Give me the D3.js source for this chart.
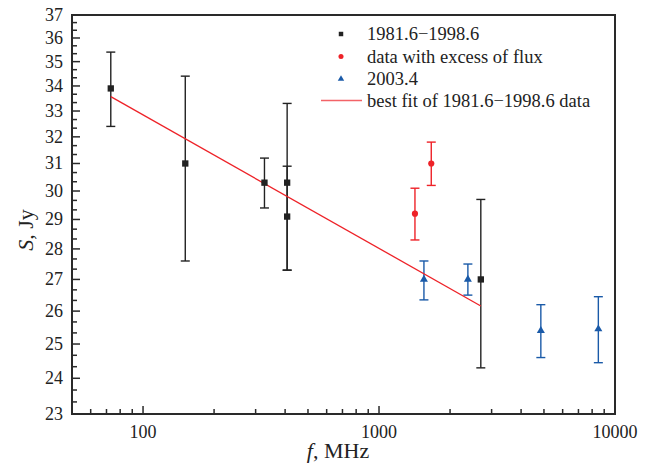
<!DOCTYPE html>
<html>
<head>
<meta charset="utf-8">
<script src="https://cdn.jsdelivr.net/npm/d3@7"></script>
<style>
html,body{margin:0;padding:0;background:#fff;}
svg{display:block;}
text{font-family:'Liberation Serif','Times New Roman','DejaVu Serif',serif;}
</style>
</head>
<body>
<svg id="chart" width="645" height="474"></svg>
<script>
// ---- data ----
const blackFreq = [73, 151, 327, 408, 408, 2700];
const blackFlux = [33.9, 31.0, 30.3, 30.3, 29.1, 27.0];
const blackLow  = [32.4, 27.6, 29.4, 27.3, 27.3, 24.3];
const blackHigh = [35.4, 34.4, 31.2, 33.3, 30.9, 29.7];

const redFreq = [1420, 1665];
const redFlux = [29.2, 31.0];
const redLow  = [28.3, 30.2];
const redHigh = [30.1, 31.8];

const blueFreq = [1550, 2380, 4850, 8500];
const blueFlux = [27.0, 27.0, 25.4, 25.45];
const blueLow  = [26.35, 26.5, 24.6, 24.45];
const blueHigh = [27.6, 27.5, 26.2, 26.45];

const fitFreq = [73, 2700];
const fitFlux = [33.57, 26.16];

const yTickValues = [23,24,25,26,27,28,29,30,31,32,33,34,35,36,37];
const xTickValues = [100, 1000, 10000];
const legendLabels = ["1981.6\u22121998.6", "data with excess of flux", "2003.4", "best fit of 1981.6\u22121998.6 data"];

// ---- layout ----
const L = 72, R = 615, T = 15, B = 414;
const FONT = "'Liberation Serif','Times New Roman','DejaVu Serif',serif";
const colBlack = "#222222", colRed = "#ee2228", colBlue = "#1a5aa8", axisCol = "#2a2a2a";

const svg = d3.select("#chart").attr("font-family", FONT);
const x = d3.scaleLog().domain([50, 10000]).range([L, R]);
const y = d3.scaleLog().domain([23, 37]).range([B, T]);

// frame
svg.append("rect").attr("x", L).attr("y", T).attr("width", R - L).attr("height", B - T)
  .attr("fill", "none").attr("stroke", axisCol).attr("stroke-width", 2);

// y ticks
const yMinor = [];
for (let v = 23; v < 37; v++) { yMinor.push(v + 1/3, v + 2/3); }
const gy = svg.append("g");
gy.selectAll("line.maj").data(yTickValues).join("line")
  .attr("x1", L).attr("x2", L + 8).attr("y1", d => y(d)).attr("y2", d => y(d))
  .attr("stroke", axisCol).attr("stroke-width", 1.5);
gy.selectAll("line.min").data(yMinor).join("line").attr("class","min")
  .attr("x1", L).attr("x2", L + 5).attr("y1", d => y(d)).attr("y2", d => y(d))
  .attr("stroke", axisCol).attr("stroke-width", 1.5);
gy.selectAll("text").data(yTickValues).join("text")
  .attr("font-family", FONT)
  .attr("x", L - 9).attr("y", d => y(d) + 6).attr("text-anchor", "end")
  .attr("font-size", 18).attr("fill", "#222").text(d => d);

// x ticks
const xMinor = [];
[10, 100, 1000].forEach(dec => { for (let k = 2; k <= 9; k++) { const v = dec * k; if (v > 50 && v < 10000) xMinor.push(v); } });
const gx = svg.append("g");
gx.selectAll("line.maj").data(xTickValues).join("line")
  .attr("x1", d => x(d)).attr("x2", d => x(d)).attr("y1", B).attr("y2", B - 8)
  .attr("stroke", axisCol).attr("stroke-width", 1.5);
gx.selectAll("line.min").data(xMinor).join("line").attr("class","min")
  .attr("x1", d => x(d)).attr("x2", d => x(d)).attr("y1", B).attr("y2", B - 5)
  .attr("stroke", axisCol).attr("stroke-width", 1.5);
gx.selectAll("text").data(xTickValues).join("text")
  .attr("font-family", FONT)
  .attr("x", d => x(d)).attr("y", B + 24).attr("text-anchor", "middle")
  .attr("font-size", 18).attr("fill", "#222").text(d => d);

// axis titles
const xt = svg.append("text").attr("font-family", FONT).attr("x", 338).attr("y", 458).attr("text-anchor", "middle")
  .attr("font-size", 22).attr("fill", "#222");
xt.append("tspan").attr("font-style", "italic").text("f");
xt.append("tspan").text(", MHz");
const yt = svg.append("text").attr("font-family", FONT).attr("transform", "translate(33,230) rotate(-90)").attr("text-anchor", "middle")
  .attr("font-size", 22).attr("fill", "#222");
yt.append("tspan").attr("font-style", "italic").text("S");
yt.append("tspan").text(", Jy");

// error bars helper
function errorBars(freq, low, high, color) {
  const g = svg.append("g").attr("stroke", color).attr("stroke-width", 1.4).attr("fill", "none");
  const idx = d3.range(freq.length);
  g.selectAll("line.v").data(idx).join("line")
    .attr("x1", i => x(freq[i])).attr("x2", i => x(freq[i]))
    .attr("y1", i => y(low[i])).attr("y2", i => y(high[i]));
  g.selectAll("line.lo").data(idx).join("line").attr("class","lo")
    .attr("x1", i => x(freq[i]) - 4.5).attr("x2", i => x(freq[i]) + 4.5)
    .attr("y1", i => y(low[i])).attr("y2", i => y(low[i]));
  g.selectAll("line.hi").data(idx).join("line").attr("class","hi")
    .attr("x1", i => x(freq[i]) - 4.5).attr("x2", i => x(freq[i]) + 4.5)
    .attr("y1", i => y(high[i])).attr("y2", i => y(high[i]));
}
errorBars(blackFreq, blackLow, blackHigh, colBlack);
errorBars(redFreq, redLow, redHigh, colRed);
errorBars(blueFreq, blueLow, blueHigh, colBlue);

// fit line
const line = d3.line().x(d => x(d[0])).y(d => y(d[1]));
svg.append("path").datum(fitFreq.map((f, i) => [f, fitFlux[i]]))
  .attr("d", line).attr("fill", "none").attr("stroke", colRed).attr("stroke-width", 1.3);

// markers
const sq = d3.symbol().type(d3.symbolSquare).size(40);
const ci = d3.symbol().type(d3.symbolCircle).size(30);
const tr = d3.symbol().type(d3.symbolTriangle).size(28);
svg.append("g").selectAll("path").data(d3.range(blackFreq.length)).join("path")
  .attr("d", sq).attr("transform", i => `translate(${x(blackFreq[i])},${y(blackFlux[i])})`).attr("fill", colBlack);
svg.append("g").selectAll("path").data(d3.range(redFreq.length)).join("path")
  .attr("d", ci).attr("transform", i => `translate(${x(redFreq[i])},${y(redFlux[i])})`).attr("fill", colRed);
svg.append("g").selectAll("path").data(d3.range(blueFreq.length)).join("path")
  .attr("d", tr).attr("transform", i => `translate(${x(blueFreq[i])},${y(blueFlux[i])})`).attr("fill", colBlue);

// legend
const legY = [34, 56.5, 79, 100.5];
const lg = svg.append("g");
lg.append("path").attr("d", d3.symbol().type(d3.symbolSquare).size(20)).attr("transform", `translate(341,${legY[0]})`).attr("fill", colBlack);
lg.append("path").attr("d", d3.symbol().type(d3.symbolCircle).size(20)).attr("transform", `translate(341,${legY[1]})`).attr("fill", colRed);
lg.append("path").attr("d", d3.symbol().type(d3.symbolTriangle).size(18)).attr("transform", `translate(341,${legY[2]})`).attr("fill", colBlue);
lg.append("line").attr("x1", 321).attr("x2", 362).attr("y1", legY[3]).attr("y2", legY[3])
  .attr("stroke", colRed).attr("stroke-width", 1.3).attr("opacity", 0.7);
lg.selectAll("text").data(legendLabels).join("text")
  .attr("font-family", FONT)
  .attr("x", 367).attr("y", (d, i) => legY[i] + 6).attr("font-size", 18.5).attr("fill", "#222").text(d => d);
</script>
</body>
</html>
